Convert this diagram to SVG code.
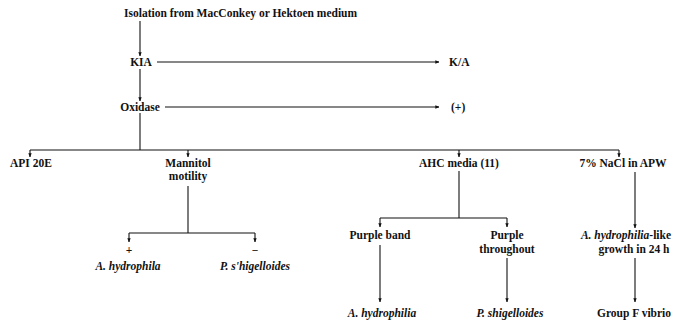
<svg xmlns="http://www.w3.org/2000/svg" width="680" height="322" viewBox="0 0 680 322">
<style>
text{font-family:"Liberation Serif","Times New Roman",serif;font-size:11.5px;fill:#111;font-weight:bold}
.m{text-anchor:middle}
.i{font-style:italic}
.c line{stroke:#111;stroke-width:1.1;fill:none}
</style>
<defs>
<marker id="a" viewBox="0 0 6 6" refX="5.5" refY="3" markerWidth="4" markerHeight="4" orient="auto" markerUnits="userSpaceOnUse"><path d="M0,0.5 L6,3 L0,5.5 Z" fill="#111"/></marker>
</defs>
<rect width="680" height="322" fill="#fff"/>
<g class="c">
<line x1="140" y1="21" x2="140" y2="56" marker-end="url(#a)"/>
<line x1="157" y1="62" x2="439" y2="62" marker-end="url(#a)"/>
<line x1="140" y1="69" x2="140" y2="101" marker-end="url(#a)"/>
<line x1="165" y1="107" x2="439" y2="107" marker-end="url(#a)"/>
<line x1="140" y1="113" x2="140" y2="150"/>
<line x1="30" y1="150" x2="619" y2="150"/>
<line x1="30" y1="150" x2="30" y2="157" marker-end="url(#a)"/>
<line x1="188" y1="150" x2="188" y2="157" marker-end="url(#a)"/>
<line x1="459" y1="150" x2="459" y2="157" marker-end="url(#a)"/>
<line x1="619" y1="150" x2="619" y2="157" marker-end="url(#a)"/>
<line x1="188" y1="186" x2="188" y2="233"/>
<line x1="129" y1="233" x2="255" y2="233"/>
<line x1="129" y1="233" x2="129" y2="242" marker-end="url(#a)"/>
<line x1="255" y1="233" x2="255" y2="242" marker-end="url(#a)"/>
<line x1="459" y1="171" x2="459" y2="218"/>
<line x1="380" y1="218" x2="507" y2="218"/>
<line x1="380" y1="218" x2="380" y2="227" marker-end="url(#a)"/>
<line x1="507" y1="218" x2="507" y2="227" marker-end="url(#a)"/>
<line x1="380" y1="245" x2="380" y2="302" marker-end="url(#a)"/>
<line x1="507" y1="258" x2="507" y2="302" marker-end="url(#a)"/>
<line x1="635" y1="172" x2="635" y2="228" marker-end="url(#a)"/>
<line x1="635" y1="258" x2="635" y2="302" marker-end="url(#a)"/>
</g>
<g id="isolation"><text x="124" y="17">Isolation from MacConkey or Hektoen medium</text></g>
<g id="kia"><text x="141" y="66" class="m">KIA</text></g>
<g id="ka"><text x="449" y="66">K/A</text></g>
<g id="oxidase"><text x="140" y="111" class="m">Oxidase</text></g>
<g id="oxpos"><text x="451" y="111">(+)</text></g>
<g id="api"><text x="10" y="167">API 20E</text></g>
<g id="mannitol"><text x="188" y="167" class="m">Mannitol</text><text x="188" y="180" class="m">motility</text></g>
<g id="ahc"><text x="459" y="167" class="m">AHC media (11)</text></g>
<g id="nacl"><text x="623" y="167" class="m">7% NaCl in APW</text></g>
<g id="plus"><text x="129" y="254" class="m">+</text><text x="128" y="270" class="m i">A. hydrophila</text></g>
<g id="minus"><text x="255" y="254" class="m">−</text><text x="255" y="270" class="m i">P. s'higelloides</text></g>
<g id="band"><text x="380" y="239" class="m">Purple band</text></g>
<g id="throughout"><text x="507" y="239" class="m">Purple</text><text x="507" y="253" class="m">throughout</text></g>
<g id="likegrowth"><text x="626" y="239" class="m"><tspan class="i">A. hydrophilia</tspan>-like</text><text x="634" y="253" class="m">growth in 24 h</text></g>
<g id="ahyd2"><text x="382" y="317" class="m i">A. hydrophilia</text></g>
<g id="pshig2"><text x="510" y="317" class="m i">P. shigelloides</text></g>
<g id="groupf"><text x="634" y="317" class="m">Group F vibrio</text></g>
</svg>
